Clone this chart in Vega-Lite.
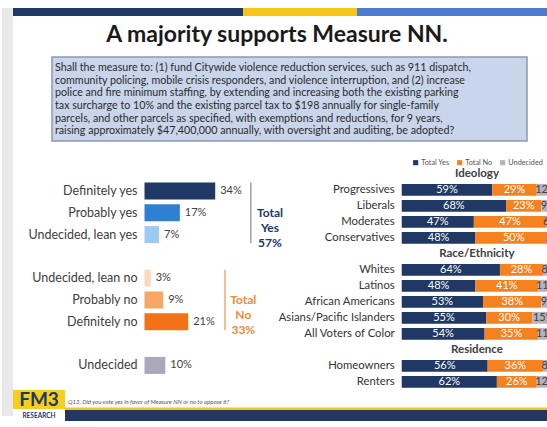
{
  "$schema": "https://vega.github.io/schema/vega-lite/v6.json",
  "width": 547,
  "height": 427,
  "autosize": {"type": "none"},
  "padding": 0,
  "background": "#ffffff",
  "config": {"view": {"stroke": null}, "text": {"font": "Lato"}, "legend": {"labelFont": "Lato"}},
  "resolve": {"scale": {"x": "independent", "y": "independent", "color": "independent"}},
  "datasets": {
    "left": [
      {"cat": "Definitely yes", "pct": 0.34},
      {"cat": "Probably yes", "pct": 0.17},
      {"cat": "Undecided, lean yes", "pct": 0.07},
      {"cat": "Undecided, lean no", "pct": 0.03},
      {"cat": "Probably no", "pct": 0.09},
      {"cat": "Definitely no", "pct": 0.21},
      {"cat": "Undecided", "pct": 0.10}
    ],
    "right": [
      {"cat": "Progressives", "resp": "Total Yes", "ord": 1, "pct": 0.59},
      {"cat": "Progressives", "resp": "Total No", "ord": 2, "pct": 0.29},
      {"cat": "Progressives", "resp": "Undecided", "ord": 3, "pct": 0.12},
      {"cat": "Liberals", "resp": "Total Yes", "ord": 1, "pct": 0.68},
      {"cat": "Liberals", "resp": "Total No", "ord": 2, "pct": 0.23},
      {"cat": "Liberals", "resp": "Undecided", "ord": 3, "pct": 0.09},
      {"cat": "Moderates", "resp": "Total Yes", "ord": 1, "pct": 0.47},
      {"cat": "Moderates", "resp": "Total No", "ord": 2, "pct": 0.47},
      {"cat": "Moderates", "resp": "Undecided", "ord": 3, "pct": 0.06},
      {"cat": "Conservatives", "resp": "Total Yes", "ord": 1, "pct": 0.48},
      {"cat": "Conservatives", "resp": "Total No", "ord": 2, "pct": 0.50},
      {"cat": "Conservatives", "resp": "Undecided", "ord": 3, "pct": 0.02},
      {"cat": "Whites", "resp": "Total Yes", "ord": 1, "pct": 0.64},
      {"cat": "Whites", "resp": "Total No", "ord": 2, "pct": 0.28},
      {"cat": "Whites", "resp": "Undecided", "ord": 3, "pct": 0.08},
      {"cat": "Latinos", "resp": "Total Yes", "ord": 1, "pct": 0.48},
      {"cat": "Latinos", "resp": "Total No", "ord": 2, "pct": 0.41},
      {"cat": "Latinos", "resp": "Undecided", "ord": 3, "pct": 0.11},
      {"cat": "African Americans", "resp": "Total Yes", "ord": 1, "pct": 0.53},
      {"cat": "African Americans", "resp": "Total No", "ord": 2, "pct": 0.38},
      {"cat": "African Americans", "resp": "Undecided", "ord": 3, "pct": 0.09},
      {"cat": "Asians/Pacific Islanders", "resp": "Total Yes", "ord": 1, "pct": 0.55},
      {"cat": "Asians/Pacific Islanders", "resp": "Total No", "ord": 2, "pct": 0.30},
      {"cat": "Asians/Pacific Islanders", "resp": "Undecided", "ord": 3, "pct": 0.15},
      {"cat": "All Voters of Color", "resp": "Total Yes", "ord": 1, "pct": 0.54},
      {"cat": "All Voters of Color", "resp": "Total No", "ord": 2, "pct": 0.35},
      {"cat": "All Voters of Color", "resp": "Undecided", "ord": 3, "pct": 0.11},
      {"cat": "Homeowners", "resp": "Total Yes", "ord": 1, "pct": 0.56},
      {"cat": "Homeowners", "resp": "Total No", "ord": 2, "pct": 0.36},
      {"cat": "Homeowners", "resp": "Undecided", "ord": 3, "pct": 0.08},
      {"cat": "Renters", "resp": "Total Yes", "ord": 1, "pct": 0.62},
      {"cat": "Renters", "resp": "Total No", "ord": 2, "pct": 0.26},
      {"cat": "Renters", "resp": "Undecided", "ord": 3, "pct": 0.12}
    ],
    "sections": [
      {"sec": "Ideology"},
      {"sec": "Race/Ethnicity"},
      {"sec": "Residence"}
    ],
    "question": [
      {"line": 1, "text": "Shall the measure to: (1) fund Citywide violence reduction services, such as 911 dispatch,"},
      {"line": 2, "text": "community policing, mobile crisis responders, and violence interruption, and (2) increase"},
      {"line": 3, "text": "police and fire minimum staffing, by extending and increasing both the existing parking"},
      {"line": 4, "text": "tax surcharge to 10% and the existing parcel tax to $198 annually for single-family"},
      {"line": 5, "text": "parcels, and other parcels as specified, with exemptions and reductions, for 9 years,"},
      {"line": 6, "text": "raising approximately $47,400,000 annually, with oversight and auditing, be adopted?"}
    ]
  },
  "layer": [
    {
      "data": {"values": [{}]},
      "layer": [
        {"mark": {"type": "rect", "color": "#e9e9e9"},
         "encoding": {
           "x": {"datum": 2, "type": "quantitative", "scale": {"domain": [0, 547], "range": [0, 547], "nice": false, "zero": false}, "axis": null},
           "x2": {"datum": 13},
           "y": {"datum": 8, "type": "quantitative", "scale": {"domain": [0, 427], "range": [0, 427], "nice": false, "zero": false}, "axis": null},
           "y2": {"datum": 416}}},
        {"mark": {"type": "rect", "color": "#1f3864"},
         "encoding": {"x": {"datum": 13, "type": "quantitative", "axis": null}, "x2": {"datum": 243}, "y": {"datum": 8, "type": "quantitative", "axis": null}, "y2": {"datum": 16}}},
        {"mark": {"type": "rect", "color": "#f5c518"},
         "encoding": {"x": {"datum": 243, "type": "quantitative", "axis": null}, "x2": {"datum": 357}, "y": {"datum": 8, "type": "quantitative", "axis": null}, "y2": {"datum": 16}}},
        {"mark": {"type": "rect", "color": "#4a7dd2"},
         "encoding": {"x": {"datum": 357, "type": "quantitative", "axis": null}, "x2": {"datum": 547}, "y": {"datum": 8, "type": "quantitative", "axis": null}, "y2": {"datum": 16}}},
        {"mark": {"type": "rect", "fill": "#c8d5eb", "stroke": "#8d99ae", "strokeWidth": 1.5},
         "encoding": {"x": {"datum": 52, "type": "quantitative", "axis": null}, "x2": {"datum": 527}, "y": {"datum": 57, "type": "quantitative", "axis": null}, "y2": {"datum": 141}}},
        {"mark": {"type": "rect", "color": "#f6cf1d"},
         "encoding": {"x": {"datum": 13, "type": "quantitative", "axis": null}, "x2": {"datum": 65}, "y": {"datum": 390, "type": "quantitative", "axis": null}, "y2": {"datum": 409}}},
        {"mark": {"type": "rect", "color": "#f2c619"},
         "encoding": {"x": {"datum": 65, "type": "quantitative", "axis": null}, "x2": {"datum": 547}, "y": {"datum": 407.5, "type": "quantitative", "axis": null}, "y2": {"datum": 410}}},
        {"mark": {"type": "rect", "color": "#1f3864"},
         "encoding": {"x": {"datum": 65, "type": "quantitative", "axis": null}, "x2": {"datum": 547}, "y": {"datum": 410, "type": "quantitative", "axis": null}, "y2": {"datum": 421}}},
        {"mark": {"type": "text", "text": "A majority supports Measure NN.", "font": "Lato", "fontSize": 23, "fontWeight": "bold", "color": "#1a1a1a", "align": "center", "baseline": "alphabetic"},
         "encoding": {"x": {"datum": 277, "type": "quantitative", "axis": null}, "y": {"datum": 42, "type": "quantitative", "axis": null}}},
        {"mark": {"type": "text", "text": "Q13. Did you vote yes in favor of Measure NN or no to oppose it?", "fontSize": 6, "fontStyle": "italic", "color": "#555555", "align": "left", "baseline": "middle"},
         "encoding": {"x": {"datum": 68, "type": "quantitative", "axis": null}, "y": {"datum": 402, "type": "quantitative", "axis": null}}},
        {"mark": {"type": "text", "text": "FM3", "fontSize": 19, "fontWeight": "bold", "color": "#1f3864", "align": "center", "baseline": "middle"},
         "encoding": {"x": {"datum": 39, "type": "quantitative", "axis": null}, "y": {"datum": 400, "type": "quantitative", "axis": null}}},
        {"mark": {"type": "text", "text": "RESEARCH", "fontSize": 6.5, "fontWeight": "bold", "color": "#1f3864", "align": "center", "baseline": "middle"},
         "encoding": {"x": {"datum": 39, "type": "quantitative", "axis": null}, "y": {"datum": 415.5, "type": "quantitative", "axis": null}}}
      ]
    },
    {
      "data": {"name": "question"},
      "mark": {"type": "text", "fontSize": 10.7, "color": "#2b2b2b", "align": "left", "baseline": "middle"},
      "encoding": {
        "x": {"datum": 55, "type": "quantitative", "scale": {"domain": [0, 547], "range": [0, 547], "nice": false, "zero": false}, "axis": null},
        "y": {"field": "line", "type": "ordinal", "scale": {"type": "point", "domain": [1, 2, 3, 4, 5, 6], "range": [68.4, 131.1], "padding": 0}, "axis": null},
        "text": {"field": "text", "type": "nominal"}
      }
    },
    {
      "data": {"name": "left"},
      "layer": [
        {
          "mark": {"type": "bar"},
          "encoding": {
            "x": {"field": "pct", "type": "quantitative", "scale": {"domain": [0, 1], "range": [144.5, 352.5], "nice": false}, "axis": null},
            "y": {"field": "cat", "type": "nominal", "scale": {"type": "band", "domain": ["Definitely yes", "Probably yes", "Undecided, lean yes", " ", "Undecided, lean no", "Probably no", "Definitely no", "  ", "Undecided"], "range": [180.1, 376.3], "paddingInner": 0.22, "paddingOuter": 0.11}, "axis": null},
            "color": {"field": "cat", "type": "nominal", "scale": {"domain": ["Definitely yes", "Probably yes", "Undecided, lean yes", "Undecided, lean no", "Probably no", "Definitely no", "Undecided"], "range": ["#1f3864", "#2e80d2", "#9ccaf1", "#fcd8bf", "#f6a764", "#f47216", "#a9a9b9"]}, "legend": null}
          }
        },
        {
          "mark": {"type": "text", "align": "left", "baseline": "middle", "dx": 5, "fontSize": 11, "color": "#404040"},
          "encoding": {
            "x": {"field": "pct", "type": "quantitative", "axis": null},
            "y": {"field": "cat", "type": "nominal", "axis": null},
            "text": {"field": "pct", "type": "quantitative", "format": ".0%"}
          }
        },
        {
          "mark": {"type": "text", "align": "right", "baseline": "middle", "dx": -7, "fontSize": 12.5, "color": "#404040"},
          "encoding": {
            "x": {"datum": 0, "type": "quantitative", "axis": null},
            "y": {"field": "cat", "type": "nominal", "axis": null},
            "text": {"field": "cat", "type": "nominal"}
          }
        },
        {
          "data": {"values": [{"label": "Total\nYes\n57%"}]},
          "mark": {"type": "text", "lineBreak": "\n", "lineHeight": 15, "align": "center", "baseline": "middle", "fontSize": 12, "fontWeight": "bold", "color": "#203864"},
          "encoding": {
            "x": {"datum": 0.603, "type": "quantitative", "axis": null},
            "y": {"datum": "Probably yes", "type": "nominal", "axis": null},
            "text": {"field": "label", "type": "nominal"}
          }
        },
        {
          "data": {"values": [{"label": "Total\nNo\n33%"}]},
          "mark": {"type": "text", "lineBreak": "\n", "lineHeight": 15, "align": "center", "baseline": "middle", "fontSize": 12, "fontWeight": "bold", "color": "#ef8a3a"},
          "encoding": {
            "x": {"datum": 0.475, "type": "quantitative", "axis": null},
            "y": {"datum": "Probably no", "type": "nominal", "axis": null},
            "text": {"field": "label", "type": "nominal"}
          }
        },
        {
          "data": {"values": [{}]},
          "mark": {"type": "rule", "color": "#a0a0a0", "strokeWidth": 1.5},
          "encoding": {
            "x": {"datum": 0.511, "type": "quantitative", "axis": null},
            "y": {"datum": "Definitely yes", "type": "nominal", "bandPosition": 0, "axis": null},
            "y2": {"datum": "Undecided, lean yes", "bandPosition": 1}
          }
        },
        {
          "data": {"values": [{}]},
          "mark": {"type": "rule", "color": "#f0a878", "strokeWidth": 1.5},
          "encoding": {
            "x": {"datum": 0.387, "type": "quantitative", "axis": null},
            "y": {"datum": "Undecided, lean no", "type": "nominal", "bandPosition": 0, "axis": null},
            "y2": {"datum": "Definitely no", "bandPosition": 1}
          }
        }
      ]
    },
    {
      "data": {"name": "right"},
      "layer": [
        {
          "mark": {"type": "bar"},
          "encoding": {
            "x": {"field": "pct", "type": "quantitative", "stack": "zero", "scale": {"domain": [0, 1], "range": [401.7, 555.2], "nice": false}, "axis": null},
            "y": {"field": "cat", "type": "nominal", "scale": {"type": "band", "domain": ["Ideology", "Progressives", "Liberals", "Moderates", "Conservatives", "Race/Ethnicity", "Whites", "Latinos", "African Americans", "Asians/Pacific Islanders", "All Voters of Color", "Residence", "Homeowners", "Renters"], "range": [165.8, 389.8], "paddingInner": 0.26, "paddingOuter": 0.13}, "axis": null},
            "color": {"field": "resp", "type": "nominal", "scale": {"domain": ["Total Yes", "Total No", "Undecided"], "range": ["#1f3864", "#f5821f", "#b4b4c0"]},
              "legend": {"orient": "none", "legendX": 412, "legendY": 159, "direction": "horizontal", "title": null, "labelFontSize": 7.3, "labelColor": "#555555", "symbolType": "square", "symbolSize": 26, "symbolStrokeWidth": 0, "columnPadding": 6, "labelOffset": 2, "padding": 0}},
            "order": {"field": "ord", "type": "quantitative"}
          }
        },
        {
          "mark": {"type": "text", "align": "center", "baseline": "middle", "fontSize": 11},
          "encoding": {
            "x": {"field": "pct", "type": "quantitative", "stack": "zero", "bandPosition": 0.5, "axis": null},
            "y": {"field": "cat", "type": "nominal", "axis": null},
            "detail": {"field": "resp", "type": "nominal"},
            "order": {"field": "ord", "type": "quantitative"},
            "text": {"field": "pct", "type": "quantitative", "format": ".0%"},
            "color": {"condition": {"test": "datum.resp === 'Undecided'", "value": "#404040"}, "value": "#ffffff"}
          }
        },
        {
          "transform": [{"filter": "datum.resp === 'Total Yes'"}],
          "mark": {"type": "text", "align": "right", "baseline": "middle", "dx": -7, "fontSize": 11.3, "color": "#333333"},
          "encoding": {
            "x": {"datum": 0, "type": "quantitative", "axis": null},
            "y": {"field": "cat", "type": "nominal", "axis": null},
            "text": {"field": "cat", "type": "nominal"}
          }
        },
        {
          "data": {"name": "sections"},
          "mark": {"type": "text", "align": "center", "baseline": "middle", "fontSize": 11.5, "fontWeight": "bold", "color": "#404040"},
          "encoding": {
            "x": {"datum": 0.49, "type": "quantitative", "axis": null},
            "y": {"field": "sec", "type": "nominal", "axis": null},
            "text": {"field": "sec", "type": "nominal"}
          }
        }
      ]
    }
  ]
}
